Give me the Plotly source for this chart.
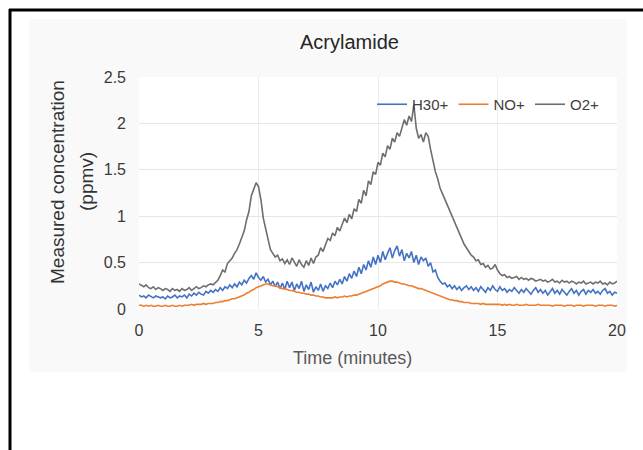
import plotly.graph_objects as go

# ---------------- data ----------------
time_min = [i / 10 for i in range(201)]  # sampling grid 0.0 .. 20.0 min

o2_plus = [
    0.27, 0.25, 0.24, 0.26, 0.23, 0.22, 0.24, 0.21, 0.23, 0.22,
    0.20, 0.22, 0.21, 0.19, 0.22, 0.20, 0.21, 0.19, 0.22, 0.20,
    0.21, 0.23, 0.20, 0.22, 0.24, 0.22, 0.23, 0.25, 0.24, 0.26,
    0.27, 0.26, 0.29, 0.31, 0.36, 0.42, 0.40, 0.49, 0.52, 0.55,
    0.60, 0.64, 0.70, 0.78, 0.84, 0.96, 1.05, 1.22, 1.30, 1.36,
    1.32, 1.18, 0.98, 0.86, 0.74, 0.64, 0.60, 0.56, 0.58, 0.52,
    0.54, 0.49, 0.53, 0.48, 0.55, 0.50, 0.46, 0.53, 0.48, 0.45,
    0.52, 0.47, 0.55, 0.49, 0.56, 0.58, 0.66, 0.62, 0.70, 0.76,
    0.74, 0.82, 0.79, 0.88, 0.84, 0.92, 0.98, 0.93, 1.02, 0.97,
    1.08, 1.05, 1.18, 1.14, 1.28, 1.22, 1.38, 1.34, 1.48, 1.45,
    1.58, 1.55, 1.68, 1.64, 1.76, 1.72, 1.84, 1.80, 1.90, 1.86,
    1.96, 2.04, 1.98, 2.08, 2.02, 2.20, 1.95, 1.84, 1.88, 1.80,
    1.90, 1.86, 1.72, 1.58, 1.48, 1.40, 1.30, 1.24, 1.18, 1.10,
    1.04, 0.98, 0.92, 0.86, 0.82, 0.76, 0.70, 0.66, 0.62, 0.58,
    0.56, 0.52, 0.53, 0.48, 0.49, 0.45, 0.47, 0.43, 0.44, 0.48,
    0.42, 0.38, 0.36, 0.37, 0.34, 0.35, 0.33, 0.34, 0.35, 0.32,
    0.34, 0.32, 0.33, 0.31, 0.33, 0.32, 0.30, 0.31, 0.32, 0.30,
    0.31, 0.29, 0.30, 0.32, 0.29, 0.30, 0.28, 0.31, 0.29, 0.30,
    0.28, 0.30, 0.29, 0.27, 0.29, 0.28, 0.30, 0.27, 0.28, 0.29,
    0.27, 0.29, 0.28, 0.30, 0.27, 0.28, 0.26, 0.29, 0.27, 0.28,
    0.30,
]

h3o_plus = [
    0.15, 0.13, 0.14, 0.12, 0.15, 0.13, 0.12, 0.14, 0.13, 0.12,
    0.13, 0.11, 0.14, 0.12, 0.13, 0.15, 0.12, 0.14, 0.13, 0.15,
    0.12, 0.16, 0.14, 0.17, 0.15, 0.18, 0.16, 0.15, 0.19, 0.17,
    0.20, 0.18, 0.21, 0.19, 0.23, 0.20, 0.24, 0.22, 0.26, 0.23,
    0.27, 0.24, 0.29, 0.26, 0.31, 0.28, 0.33, 0.36, 0.32, 0.39,
    0.34, 0.31, 0.35, 0.29, 0.32, 0.26, 0.30, 0.24, 0.29, 0.22,
    0.28, 0.21, 0.30, 0.23, 0.29, 0.20, 0.27, 0.22, 0.30, 0.19,
    0.26, 0.21, 0.29, 0.18, 0.24, 0.20, 0.27, 0.19, 0.25, 0.22,
    0.28, 0.23, 0.30, 0.26, 0.32, 0.27, 0.35, 0.30, 0.38, 0.33,
    0.41, 0.35, 0.45, 0.38, 0.48, 0.42, 0.52, 0.45, 0.56, 0.48,
    0.58, 0.50, 0.62, 0.53, 0.60, 0.66, 0.55, 0.63, 0.68, 0.57,
    0.64, 0.52, 0.60, 0.55, 0.62, 0.50, 0.58, 0.48, 0.56, 0.52,
    0.55, 0.46, 0.50, 0.40, 0.42, 0.34, 0.30, 0.27, 0.28, 0.24,
    0.26, 0.22, 0.25, 0.21, 0.24, 0.20, 0.23, 0.25, 0.21, 0.24,
    0.20, 0.23, 0.19, 0.24, 0.21, 0.18, 0.23, 0.20, 0.25, 0.21,
    0.19, 0.24, 0.20, 0.22, 0.18, 0.21, 0.19, 0.23, 0.20, 0.17,
    0.21, 0.18, 0.22, 0.19, 0.16, 0.20, 0.23, 0.18, 0.21, 0.17,
    0.20, 0.15, 0.19, 0.22, 0.17, 0.20, 0.16, 0.21, 0.18, 0.15,
    0.19, 0.22, 0.17, 0.20, 0.15, 0.19, 0.21, 0.16, 0.20, 0.18,
    0.21, 0.17, 0.19, 0.16, 0.20, 0.22, 0.17, 0.19, 0.15, 0.18,
    0.17,
]

no_plus = [
    0.04, 0.04, 0.03, 0.04, 0.03, 0.04, 0.03, 0.03, 0.04, 0.03,
    0.03, 0.04, 0.03, 0.03, 0.04, 0.03, 0.03, 0.04, 0.03, 0.04,
    0.04, 0.04, 0.05, 0.04, 0.05, 0.05, 0.05, 0.06, 0.05, 0.06,
    0.06, 0.06, 0.07, 0.07, 0.08, 0.08, 0.09, 0.09, 0.10, 0.11,
    0.11, 0.12, 0.13, 0.14, 0.15, 0.17, 0.18, 0.20, 0.21, 0.23,
    0.24, 0.25, 0.26, 0.27, 0.27, 0.26, 0.25, 0.25, 0.24, 0.23,
    0.22, 0.22, 0.21, 0.20, 0.20, 0.19, 0.18, 0.18, 0.17, 0.17,
    0.16, 0.16, 0.15, 0.15, 0.14, 0.14, 0.13, 0.13, 0.12, 0.12,
    0.12, 0.12, 0.13, 0.12, 0.13, 0.13, 0.14, 0.13, 0.14, 0.14,
    0.15, 0.15, 0.16, 0.17, 0.18, 0.19, 0.20, 0.21, 0.22, 0.23,
    0.24, 0.25, 0.27, 0.28, 0.29, 0.30, 0.30, 0.29, 0.29, 0.28,
    0.27, 0.27, 0.26, 0.25, 0.25, 0.24, 0.23, 0.22, 0.22, 0.21,
    0.20, 0.19, 0.18, 0.17, 0.16, 0.15, 0.14, 0.13, 0.12, 0.11,
    0.10, 0.10, 0.09, 0.09, 0.08, 0.08, 0.07, 0.07, 0.07, 0.06,
    0.06, 0.06, 0.06, 0.05, 0.06, 0.05, 0.05, 0.05, 0.05, 0.05,
    0.05, 0.05, 0.04, 0.05, 0.04, 0.05, 0.04, 0.04, 0.05, 0.04,
    0.04, 0.04, 0.05, 0.04, 0.04, 0.04, 0.04, 0.05, 0.04, 0.04,
    0.04, 0.04, 0.04, 0.03, 0.04, 0.04, 0.04, 0.04, 0.03, 0.04,
    0.04, 0.04, 0.03, 0.04, 0.04, 0.04, 0.03, 0.04, 0.04, 0.04,
    0.04, 0.03, 0.04, 0.04, 0.04, 0.03, 0.04, 0.04, 0.04, 0.03,
    0.04,
]

series_names = ["H30+", "NO+", "O2+"]
x_ticks = [0, 5, 10, 15, 20]
y_ticks = [0, 0.5, 1, 1.5, 2, 2.5]
y_tick_labels = ["0", "0.5", "1", "1.5", "2", "2.5"]

# ---------------- layout geometry (pixels) ----------------
W, H = 643, 450
L, R, T, B = 139, 617, 77, 309   # plot area edges in pixels


def px(xp):
    return (xp - L) / (R - L)


def py(yp):
    return (B - yp) / (B - T)


FONT = "Liberation Sans, Arial, sans-serif"

fig = go.Figure()
colors = ["#4472C4", "#ED7D31", "#6E6E6E"]
for name, ys, c in zip(series_names, [h3o_plus, no_plus, o2_plus], colors):
    fig.add_trace(go.Scatter(x=time_min, y=ys, mode="lines", name=name,
                             line=dict(color=c, width=1.6)))

fig.update_layout(
    width=W, height=H,
    margin=dict(l=L, r=W - R, t=T, b=H - B, pad=0),
    paper_bgcolor="white",
    plot_bgcolor="rgba(255,255,255,0)",
    font=dict(family=FONT, color="#404040"),
    showlegend=True,
    legend=dict(orientation="h", x=px(372), y=py(88), xanchor="left", yanchor="top",
                bgcolor="rgba(0,0,0,0)", font=dict(size=15, color="#404040"),
                itemwidth=30, tracegroupgap=0),
    xaxis=dict(range=[0, 20], tickvals=x_ticks, ticktext=[str(v) for v in x_ticks],
               showgrid=True, gridcolor="#ececec", gridwidth=1, zeroline=False,
               showline=False, ticks="", ticklabelstandoff=10,
               tickfont=dict(size=16, color="#3a3a3a")),
    yaxis=dict(range=[0, 2.5], tickvals=y_ticks, ticktext=y_tick_labels,
               showgrid=True, gridcolor="#e6e6e6", gridwidth=1, zeroline=False,
               showline=False, ticks="", ticklabelstandoff=12,
               tickfont=dict(size=16, color="#3a3a3a")),
    shapes=[
        # faint chart-area background
        dict(type="rect", xref="paper", yref="paper", layer="below",
             x0=px(29), x1=px(627), y0=py(372), y1=py(19),
             fillcolor="#f9f9f9", line=dict(width=0)),
        # white plot area
        dict(type="rect", xref="paper", yref="paper", layer="below",
             x0=0, x1=1, y0=0, y1=1, fillcolor="white", line=dict(width=0)),
        # black frame (left and top)
        dict(type="line", xref="paper", yref="paper", x0=px(10), x1=px(10),
             y0=py(9), y1=py(452), line=dict(color="black", width=3)),
        dict(type="line", xref="paper", yref="paper", x0=px(9), x1=px(645),
             y0=py(10), y1=py(10), line=dict(color="black", width=3)),
    ],
    annotations=[
        dict(text="Acrylamide", xref="paper", yref="paper", x=px(349), y=py(42),
             xanchor="center", yanchor="middle", showarrow=False,
             font=dict(size=20, color="#262626")),
        dict(text="Time (minutes)", xref="paper", yref="paper", x=px(352), y=py(358),
             xanchor="center", yanchor="middle", showarrow=False,
             font=dict(size=18, color="#595959")),
        dict(text="Measured concentration", xref="paper", yref="paper", x=px(57), y=py(182),
             xanchor="center", yanchor="middle", showarrow=False, textangle=-90,
             font=dict(size=19, color="#333333")),
        dict(text="(ppmv)", xref="paper", yref="paper", x=px(86), y=py(182),
             xanchor="center", yanchor="middle", showarrow=False, textangle=-90,
             font=dict(size=19, color="#333333")),
    ],
)

fig.write_html(
    "out.html",
    config={"displayModeBar": False},
    post_script="document.body.style.margin='0';document.body.style.overflow='hidden';",
)
